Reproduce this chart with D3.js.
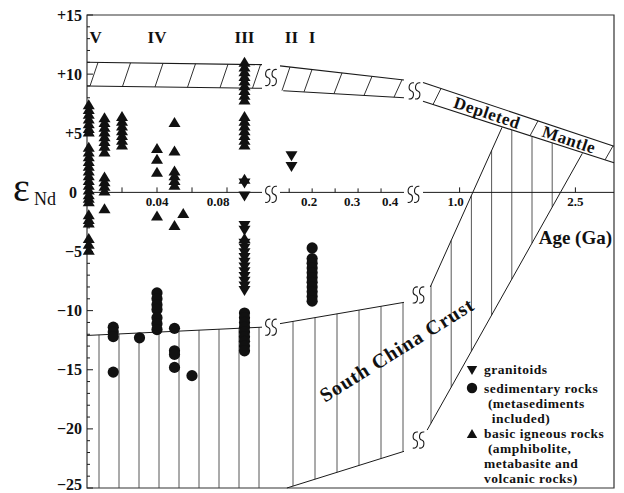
<!DOCTYPE html>
<html><head><meta charset="utf-8">
<script src="https://cdn.jsdelivr.net/npm/d3@7"></script>
<style>
body{margin:0;background:#fff}
text{font-family:"Liberation Serif","Times New Roman",serif;fill:#111}
</style>
</head><body>
<svg id="c" width="624" height="493"></svg>
<script>
// ---------------- data ----------------
const yTickValues = [15,10,5,0,-5,-10,-15,-20,-25];
const yTickLabels = ["+15","+10","+5","0","\u22125","\u221210","\u221215","\u221220","\u221225"];
const seg1Domain = [0, 0.1];
const seg2Domain = [0.13, 0.4];
const seg3Domain = [0.526, 3.0];
const seg1Ticks = [0.02,0.04,0.06,0.08];
const seg1Labels = ["0.04","0.08"];
const seg2Ticks = [0.15,0.2,0.25,0.3,0.35];
const seg2Labels = ["0.2","0.3","0.4"];
const seg3Ticks = [1.0,2.5];
const seg3Labels = ["1.0","2.5"];
const periods = ["V","IV","III","II","I"];
const periodAges = [0.005,0.04,0.09,0.155,0.2];

// Depleted mantle band edges per segment [[age,eNd],[age,eNd]]
const dmTop = [[[0,11.0],[0.1,10.8]], [[0.13,10.7],[0.4,9.5]], [[0.526,9.3],[3.0,3.9]]];
const dmBottom = [[[0,9.0],[0.1,8.8]], [[0.137,8.6],[0.4,8.0]], [[0.526,7.7],[3.0,2.5]]];
// South China crust edges
const crustTop = [[[0,-12.1],[0.1,-11.4]], [[0.13,-11.1],[0.4,-9.3]]];
const crustBottom2 = [[0.145,-25],[0.4,-21.9]];
const crustInner = [[0.62,-8.0],[1.55,5.5]];
const crustOuter = [[0.58,-20.1],[2.59,3.3]];

// samples [age (Ga), eNd]
const granitoids = [
 [0.09,0.8],[0.09,-0.3],[0.09,-2.8],[0.09,-3.2],[0.09,-4.3],[0.09,-4.7],[0.09,-5.1],[0.09,-5.5],
 [0.09,-5.9],[0.09,-6.3],[0.09,-6.7],[0.09,-7.1],[0.09,-7.5],[0.09,-7.9],[0.09,-8.3],
 [0.155,3.1],[0.155,2.2]
];
const sedimentary = [
 [0.015,-11.4],[0.015,-11.8],[0.015,-12.2],[0.015,-15.2],
 [0.03,-12.3],
 [0.04,-8.5],[0.04,-9.0],[0.04,-9.5],[0.04,-9.9],[0.04,-10.6],[0.04,-11.1],[0.04,-11.6],
 [0.05,-11.5],[0.05,-13.4],[0.05,-13.7],[0.05,-14.8],
 [0.06,-15.5],
 [0.09,-10.2],[0.09,-10.6],[0.09,-11.0],[0.09,-11.4],[0.09,-11.8],[0.09,-12.2],[0.09,-12.6],[0.09,-13.0],[0.09,-13.4],
 [0.2,-4.7],[0.2,-5.6],[0.2,-6.0],[0.2,-6.4],[0.2,-6.8],[0.2,-7.2],[0.2,-7.6],[0.2,-8.0],[0.2,-8.4],[0.2,-8.8],[0.2,-9.2]
];
const basic = [
 [0.001,7.4],[0.001,7.0],[0.001,6.6],[0.001,6.2],[0.001,5.8],[0.001,5.4],[0.001,5.1],
 [0.001,3.8],[0.001,3.4],[0.001,3.0],[0.001,2.6],[0.001,2.2],[0.001,1.8],[0.001,1.4],[0.001,1.0],
 [0.001,0.6],[0.001,0.2],[0.001,-0.2],[0.001,-0.5],[0.001,-0.8],
 [0.001,-1.9],[0.001,-2.3],[0.001,-2.6],
 [0.001,-3.9],[0.001,-4.4],[0.001,-4.9],
 [0.01,6.3],[0.01,5.9],[0.01,5.5],[0.01,5.1],[0.01,4.7],[0.01,4.3],[0.01,3.9],[0.01,3.4],
 [0.01,1.3],[0.01,0.9],[0.01,0.5],[0.01,0.1],[0.01,-1.4],
 [0.02,6.4],[0.02,6.0],[0.02,5.6],[0.02,5.2],[0.02,4.8],[0.02,4.4],[0.02,4.0],
 [0.04,3.7],[0.04,2.8],[0.04,1.7],[0.04,-2.0],
 [0.05,5.9],[0.05,3.5],[0.05,1.8],[0.05,1.4],[0.05,1.0],[0.05,0.6],[0.05,-2.8],
 [0.055,-1.8],
 [0.09,11.0],[0.09,10.6],[0.09,10.2],[0.09,9.8],[0.09,9.4],[0.09,9.0],[0.09,8.6],[0.09,8.2],[0.09,7.8],
 [0.09,6.4],[0.09,6.0],[0.09,5.6],[0.09,5.2],[0.09,4.8],[0.09,4.4],[0.09,4.0],
 [0.09,1.1],[0.09,-3.9]
];
const legendItems = [
 {sym:"down", lines:["granitoids"]},
 {sym:"circle", lines:["sedimentary rocks"," (metasediments","  included)"]},
 {sym:"up", lines:["basic igneous rocks"," (amphibolite,","metabasite and","volcanic rocks)"]}
];

// ---------------- scales ----------------
const svg = d3.select("#c");
const L = 87, R = 614, T = 15, B = 488;
const y = d3.scaleLinear().domain([-25,15]).range([B,T]);
const x1 = d3.scaleLinear().domain(seg1Domain).range([L,262]);
const x2 = d3.scaleLinear().domain(seg2Domain).range([280,404]);
const x3 = d3.scaleLinear().domain(seg3Domain).range([423,R]);
const X = t => t <= 0.1 ? x1(t) : (t <= 0.45 ? x2(t) : x3(t));
const P = d => [X(d[0]), y(d[1])];
const yAt = (ln, px) => { const a=P(ln[0]), b=P(ln[1]); return a[1] + (px-a[0])*(b[1]-a[1])/(b[0]-a[0]); };
const line = d3.line().x(d=>X(d[0])).y(d=>y(d[1]));

const g = svg.append("g");
const stroke = "#1a1a1a";

// frame
g.append("path").attr("d",`M${L},${T}H${R}V${B}H${L}Z`).attr("fill","none").attr("stroke","#333").attr("stroke-width",1.2);

// ---------------- crust hatch (vertical) ----------------
const vh = g.append("g").attr("stroke","#444").attr("stroke-width",0.9);
d3.range(99, 262, 20).forEach(px=>{
  vh.append("line").attr("x1",px).attr("x2",px).attr("y1",yAt(crustTop[0],px)).attr("y2",B);
});
d3.range(293, 405, 22).forEach(px=>{
  vh.append("line").attr("x1",px).attr("x2",px).attr("y1",yAt(crustTop[1],px)).attr("y2",Math.min(B,yAt(crustBottom2,px)));
});
d3.range(431, 560, 20.2).forEach(px=>{
  const top = Math.max(yAt(crustInner,px), yAt(dmBottom[2],px));
  vh.append("line").attr("x1",px).attr("x2",px).attr("y1",top).attr("y2",yAt(crustOuter,px));
});

// crust edges
crustTop.forEach(s=>g.append("path").attr("d",line(s)).attr("fill","none").attr("stroke",stroke).attr("stroke-width",1));
[crustBottom2, crustInner, crustOuter].forEach(s=>g.append("path").attr("d",line(s)).attr("fill","none").attr("stroke",stroke).attr("stroke-width",1));

// ---------------- depleted mantle band ----------------
dmTop.concat(dmBottom).forEach(s=>g.append("path").attr("d",line(s)).attr("fill","none").attr("stroke",stroke).attr("stroke-width",1.1));
const hatchSets = [
  [0, d3.range(90, 260, 32.5)],
  [1, [282].concat(d3.range(304, 400, 30))],
  [2, [433, 530, 605]]
];
hatchSets.forEach(([i, xs])=>{
  xs.forEach(px=>{
    g.append("line").attr("x1",px).attr("y1",yAt(dmBottom[i],px))
      .attr("x2",px+8).attr("y2",yAt(dmTop[i],px+8))
      .attr("stroke",stroke).attr("stroke-width",0.9);
  });
});

// ---------------- axes ----------------
const ya = g.append("g").attr("stroke",stroke).attr("stroke-width",1);
d3.range(-25,16,1).forEach(v=>{
  const major = v % 5 === 0;
  ya.append("line").attr("x1",L).attr("x2",L+(major?6:3)).attr("y1",y(v)).attr("y2",y(v));
});
yTickValues.forEach((v,i)=>{
  g.append("text").attr("x", v===0 ? 77 : 82).attr("y", v===-25 ? y(v)-1 : y(v)).attr("dy", v===-25 ? "0.2em" : "0.35em")
   .attr("text-anchor","end").attr("font-size",16).attr("font-weight","bold").text(yTickLabels[i]);
});
const ax = g.append("g").attr("stroke",stroke).attr("stroke-width",1);
[x1,x2,x3].forEach(s=>{
  ax.append("line").attr("x1",s.range()[0]).attr("x2",s.range()[1]).attr("y1",y(0)).attr("y2",y(0));
});
seg1Ticks.forEach(t=>ax.append("line").attr("x1",x1(t)).attr("x2",x1(t)).attr("y1",y(0)).attr("y2",y(0)-5));
seg2Ticks.forEach(t=>ax.append("line").attr("x1",x2(t)).attr("x2",x2(t)).attr("y1",y(0)).attr("y2",y(0)-4));
seg3Ticks.forEach(t=>ax.append("line").attr("x1",x3(t)).attr("x2",x3(t)).attr("y1",y(0)).attr("y2",y(0)-5));
const nudge = {"0.04":0,"0.08":-9,"0.2":-3,"0.3":-6,"0.4":-14,"1.0":-4,"2.5":0};
const xl = (lab, sc) => g.append("text").attr("x", sc(+lab) + nudge[lab]).attr("y", 206)
   .attr("text-anchor","middle").attr("font-size",13).attr("font-weight","bold").text(lab);
seg1Labels.forEach(l=>xl(l,x1));
seg2Labels.forEach(l=>xl(l,x2));
seg3Labels.forEach(l=>xl(l,x3));

// break symbols
function brk(cx, cy, h){
  const s = h/2;
  const one = c => `M${c+2.6},${cy-s} C${c-3.2},${cy-s-1} ${c-3.2},${cy-1} ${c},${cy} C${c+3.2},${cy+1} ${c+3.2},${cy+s+1} ${c-2.6},${cy+s}`;
  g.append("path").attr("d", one(cx-3.2)+" "+one(cx+3.2)).attr("fill","none").attr("stroke",stroke).attr("stroke-width",1.1);
}
const b12 = (x1.range()[1] + x2.range()[0]) / 2;
const b23 = (x2.range()[1] + x3.range()[0]) / 2;
brk(b12, (yAt(dmTop[0],262)+yAt(dmBottom[0],262))/2+1, 16);
brk(b12, y(0)+2, 16);
brk(b12, yAt(crustTop[0],262), 16);
brk(b23+1, (yAt(dmTop[1],404)+yAt(dmBottom[1],404))/2+2, 16);
brk(b23, y(0)+2, 16);
brk(b23+5, P(crustInner[0])[1]+8, 16);
brk(b23+5, P(crustOuter[0])[1]+10, 16);

// ---------------- texts ----------------
periods.forEach((p,i)=>{
  g.append("text").attr("x",X(periodAges[i])).attr("y",43).attr("text-anchor","middle")
   .attr("font-size",17).attr("font-weight","bold").text(p);
});
g.append("text").attr("x",13).attr("y",201).attr("font-size",40).text("\u03B5");
g.append("text").attr("x",34).attr("y",205).attr("font-size",18).text("Nd");
g.append("text").attr("x",612).attr("y",244).attr("text-anchor","end").attr("font-size",19).attr("font-weight","bold").text("Age (Ga)");

const dmAng = Math.atan2(P(dmTop[2][1])[1]-P(dmTop[2][0])[1], P(dmTop[2][1])[0]-P(dmTop[2][0])[0]) * 180/Math.PI;
[["Depleted",487],["Mantle",569]].forEach(([w,px])=>{
  const cy = (yAt(dmTop[2],px)+yAt(dmBottom[2],px))/2;
  g.append("text").attr("transform",`translate(${px},${cy}) rotate(${dmAng})`).attr("text-anchor","middle")
   .attr("dy","0.33em").attr("font-size",17).attr("font-weight","bold").attr("letter-spacing",0.6).text(w);
});
g.append("text").attr("transform","translate(397,350) rotate(-32)").attr("text-anchor","middle").attr("dy","0.33em")
 .attr("font-size",20).attr("font-weight","bold").attr("letter-spacing",1).text("South China Crust");

// ---------------- markers ----------------
const up = "M0,-5.6L6,4.4L-6,4.4Z";
const down = "M0,5.6L6,-4.4L-6,-4.4Z";
const mk = g.append("g").attr("fill","#111");
basic.forEach(d=>mk.append("path").attr("d",up).attr("transform",`translate(${P(d)})`));
granitoids.forEach(d=>mk.append("path").attr("d",down).attr("transform",`translate(${P(d)})`));
sedimentary.forEach(d=>mk.append("circle").attr("cx",X(d[0])).attr("cy",y(d[1])).attr("r",5.6));

// ---------------- legend ----------------
const baselines = [[374],[393,408,423],[438,453,468,483]];
legendItems.forEach((it,i)=>{
  const by = baselines[i][0];
  if(it.sym==="circle") mk.append("circle").attr("cx",472).attr("cy",by-5).attr("r",5.2);
  else mk.append("path").attr("d", it.sym==="up"?"M0,-5L5.2,4L-5.2,4Z":"M0,5L5.2,-4L-5.2,-4Z").attr("transform",`translate(472,${by-4})`);
  it.lines.forEach((ln,j)=>{
    g.append("text").attr("x",484).attr("y",baselines[i][j]).attr("font-size",13.5).attr("font-weight","bold")
     .attr("letter-spacing",0.5).attr("xml:space","preserve").style("white-space","pre").text(ln);
  });
});
</script>
</body></html>
